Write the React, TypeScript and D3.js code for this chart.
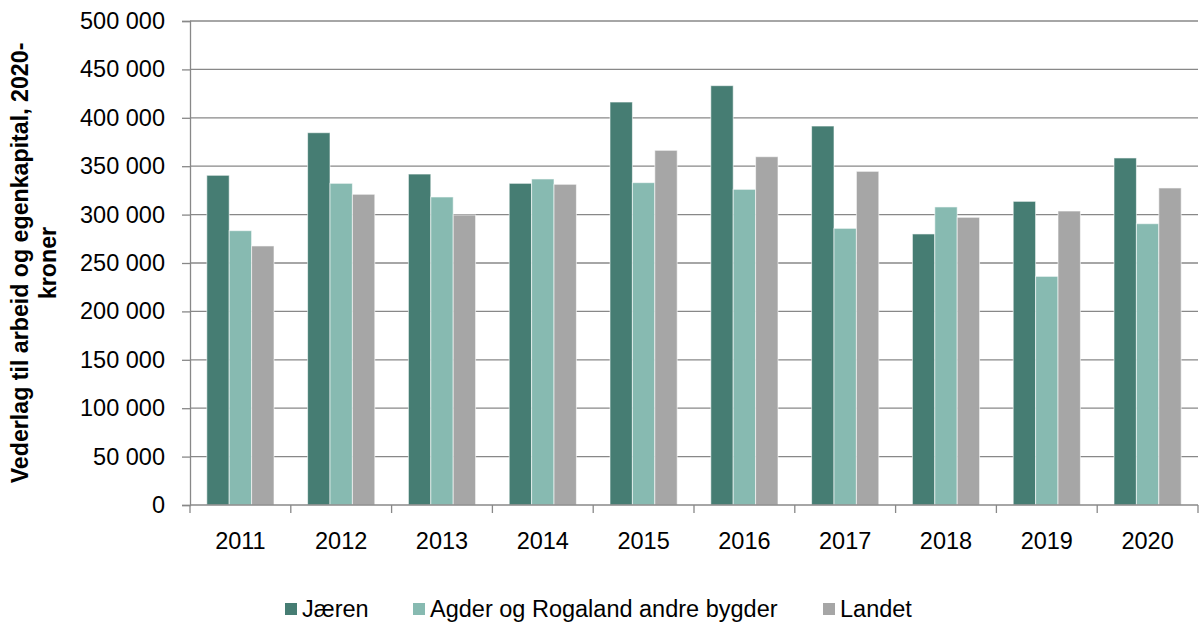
import React, { useEffect, useRef } from 'react';
import * as d3 from 'd3';

const years = ['2011', '2012', '2013', '2014', '2015', '2016', '2017', '2018', '2019', '2020'];
const seriesNames = ['Jæren', 'Agder og Rogaland andre bygder', 'Landet'];
const jaeren = [340600, 384600, 341900, 332300, 416300, 433200, 391500, 280000, 313700, 358500];
const agderRogaland = [283400, 332300, 318200, 336800, 333000, 326100, 285800, 307900, 236200, 290600];
const landet = [267600, 321000, 299600, 331300, 366400, 359800, 344700, 297200, 303700, 327500];
const yTicks = [0, 50000, 100000, 150000, 200000, 250000, 300000, 350000, 400000, 450000, 500000];
const colors = ['#467d73', '#87bab1', '#a6a6a6'];

const W = 1202;
const H = 625;
const FONT = "'Liberation Sans', Arial, sans-serif";

const App = () => {
  const ref = useRef<SVGSVGElement>(null);

  useEffect(() => {
    const svg = d3.select(ref.current);
    svg.selectAll('*').remove();

    const plot = { left: 190, right: 1198, top: 21, bottom: 505 };
    const values = [jaeren, agderRogaland, landet];

    const x0 = d3
      .scaleBand<string>()
      .domain(years)
      .range([plot.left, plot.right])
      .paddingInner(1 / 3)
      .paddingOuter(1 / 6);
    const x1 = d3.scaleBand<number>().domain([0, 1, 2]).range([0, x0.bandwidth()]);
    const y = d3.scaleLinear().domain([0, 500000]).range([plot.bottom, plot.top]);
    const fmt = (v: number) => d3.format(',')(v).replace(/,/g, ' ');

    // gridlines
    svg
      .append('g')
      .selectAll('line')
      .data(yTicks.filter((t) => t > 0))
      .enter()
      .append('line')
      .attr('x1', plot.left)
      .attr('x2', plot.right)
      .attr('y1', (d) => y(d))
      .attr('y2', (d) => y(d))
      .attr('stroke', '#888888')
      .attr('stroke-width', 1.3);

    // y axis
    const yAxis = svg
      .append('g')
      .attr('transform', `translate(${plot.left},0)`)
      .call(
        d3
          .axisLeft(y)
          .tickValues(yTicks)
          .tickSize(8)
          .tickPadding(17)
          .tickFormat((d) => fmt(+d))
      );
    yAxis.select('.domain').attr('stroke', '#888888').attr('stroke-width', 1.3);
    yAxis.selectAll('.tick line').attr('stroke', '#888888').attr('stroke-width', 1.3);
    yAxis
      .selectAll('.tick text')
      .attr('font-family', FONT)
      .attr('font-size', 23.5)
      .attr('fill', '#000');

    // bars
    svg
      .append('g')
      .selectAll('g')
      .data(years)
      .enter()
      .append('g')
      .attr('transform', (d) => `translate(${x0(d)},0)`)
      .selectAll('rect')
      .data((d, i) => values.map((s, k) => ({ k, v: s[i] })))
      .enter()
      .append('rect')
      .attr('x', (d) => x1(d.k) as number)
      .attr('width', x1.bandwidth())
      .attr('y', (d) => y(d.v))
      .attr('height', (d) => y(0) - y(d.v))
      .attr('fill', (d) => colors[d.k])
      .attr('stroke', '#ffffff')
      .attr('stroke-opacity', 0.6)
      .attr('stroke-width', 1);

    // x axis line with category ticks
    const step = x0.step();
    const xAxis = svg.append('g');
    xAxis
      .append('line')
      .attr('x1', plot.left)
      .attr('x2', plot.right)
      .attr('y1', plot.bottom)
      .attr('y2', plot.bottom)
      .attr('stroke', '#888888')
      .attr('stroke-width', 1.3);
    xAxis
      .selectAll('.cat-tick')
      .data(d3.range(years.length + 1))
      .enter()
      .append('line')
      .attr('x1', (i) => plot.left + i * step)
      .attr('x2', (i) => plot.left + i * step)
      .attr('y1', plot.bottom)
      .attr('y2', plot.bottom + 8)
      .attr('stroke', '#888888')
      .attr('stroke-width', 1.3);
    xAxis
      .selectAll('text')
      .data(years)
      .enter()
      .append('text')
      .attr('x', (d) => (x0(d) as number) + x0.bandwidth() / 2)
      .attr('y', 549)
      .attr('text-anchor', 'middle')
      .attr('font-family', FONT)
      .attr('font-size', 23.5)
      .attr('fill', '#000')
      .text((d) => d);

    // y title
    const cy = (plot.top + plot.bottom) / 2;
    const title = svg
      .append('text')
      .attr('transform', `translate(28,${cy}) rotate(-90)`)
      .attr('text-anchor', 'middle')
      .attr('font-family', FONT)
      .attr('font-size', 23.2)
      .attr('font-weight', 'bold')
      .attr('fill', '#000');
    title.append('tspan').attr('x', 0).attr('y', 0).text('Vederlag til arbeid og egenkapital, 2020-');
    title.append('tspan').attr('x', 0).attr('y', 28).text('kroner');

    // legend
    const legendX = [285, 413, 823];
    const legend = svg
      .append('g')
      .selectAll('g')
      .data(seriesNames)
      .enter()
      .append('g')
      .attr('transform', (d, i) => `translate(${legendX[i]},603)`);
    legend
      .append('rect')
      .attr('width', 12)
      .attr('height', 12)
      .attr('fill', (d, i) => colors[i]);
    legend
      .append('text')
      .attr('x', 17)
      .attr('y', 14)
      .attr('font-family', FONT)
      .attr('font-size', 23.5)
      .attr('fill', '#000')
      .text((d) => d);
  }, []);

  return (
    <svg
      ref={ref}
      width={W}
      height={H}
      style={{ position: 'absolute', left: 0, top: 0, background: '#fff' }}
    />
  );
};

export default App;
